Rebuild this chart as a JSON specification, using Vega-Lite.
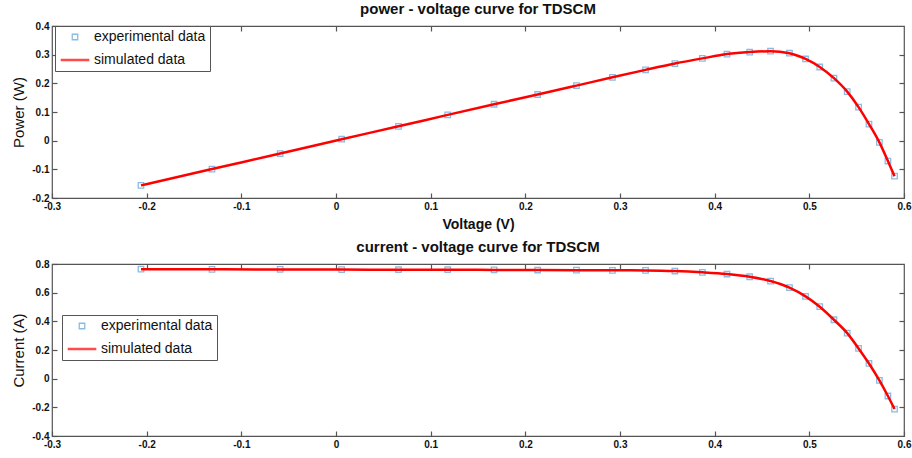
{
  "$schema": "https://vega.github.io/schema/vega-lite/v6.json",
  "background": "white",
  "padding": {"left": 11, "top": 1, "right": 0, "bottom": 2},
  "spacing": 7,
  "resolve": {
    "scale": {"color": "independent", "shape": "independent", "size": "independent", "strokeWidth": "independent"},
    "legend": {"color": "independent", "shape": "independent", "size": "independent", "strokeWidth": "independent"}
  },
  "config": {
    "font": "Liberation Sans",
    "view": {"stroke": "#555", "strokeWidth": 1.2},
    "axis": {
      "grid": false, "domain": false, "tickColor": "#555", "tickSize": -5, "tickWidth": 1.2,
      "labelFont": "Liberation Sans", "labelFontWeight": "bold", "labelFontSize": 10, "labelColor": "#111",
      "labelPadding": 8, "titleFont": "Liberation Sans", "titleColor": "#111",
      "labelExpr": "datum.value < 0 ? '-' + format(-datum.value, '~g') : format(datum.value, '~g')"
    },
    "title": {"font": "Liberation Sans", "fontSize": 15, "fontWeight": "bold", "color": "#111", "offset": 4},
    "legend": {
      "title": null, "fillColor": "white", "strokeColor": "#555", "padding": 4,
      "labelFontSize": 14, "labelColor": "#111", "labelFont": "Liberation Sans",
      "rowPadding": -8, "labelOffset": 3
    }
  },
  "datasets": {
    "d": [
      {"v": -0.206, "p": -0.156, "i": 0.764},
      {"v": -0.131, "p": -0.099, "i": 0.763},
      {"v": -0.059, "p": -0.045, "i": 0.762},
      {"v": 0.006, "p": 0.005, "i": 0.761},
      {"v": 0.066, "p": 0.050, "i": 0.760},
      {"v": 0.118, "p": 0.090, "i": 0.760},
      {"v": 0.167, "p": 0.127, "i": 0.759},
      {"v": 0.213, "p": 0.161, "i": 0.758},
      {"v": 0.254, "p": 0.192, "i": 0.757},
      {"v": 0.292, "p": 0.221, "i": 0.756},
      {"v": 0.327, "p": 0.247, "i": 0.755},
      {"v": 0.358, "p": 0.269, "i": 0.751},
      {"v": 0.387, "p": 0.287, "i": 0.742},
      {"v": 0.413, "p": 0.302, "i": 0.730},
      {"v": 0.437, "p": 0.309, "i": 0.711},
      {"v": 0.459, "p": 0.312, "i": 0.681},
      {"v": 0.479, "p": 0.305, "i": 0.635},
      {"v": 0.496, "p": 0.285, "i": 0.574},
      {"v": 0.511, "p": 0.257, "i": 0.502},
      {"v": 0.526, "p": 0.218, "i": 0.411},
      {"v": 0.540, "p": 0.171, "i": 0.318},
      {"v": 0.552, "p": 0.117, "i": 0.211},
      {"v": 0.563, "p": 0.058, "i": 0.106},
      {"v": 0.574, "p": -0.006, "i": -0.012},
      {"v": 0.583, "p": -0.071, "i": -0.121},
      {"v": 0.590, "p": -0.124, "i": -0.212}
    ]
  },
  "vconcat": [
    {
      "width": 852, "height": 172,
      "title": {"text": "power - voltage curve for TDSCM"},
      "data": {"name": "d"},
      "resolve": {"axis": {"x": "independent", "y": "independent"}},
      "layer": [
        {
          "mark": {"type": "point", "filled": false},
          "encoding": {
            "x": {"field": "v", "type": "quantitative", "scale": {"domain": [-0.3, 0.6], "nice": false, "zero": false},
              "axis": {"orient": "top", "labels": false, "title": null, "values": [-0.2, -0.1, 0, 0.1, 0.2, 0.3, 0.4, 0.5]}},
            "y": {"field": "p", "type": "quantitative", "scale": {"domain": [-0.2, 0.4], "nice": false, "zero": false},
              "axis": {"orient": "right", "labels": false, "title": null, "values": [-0.1, 0, 0.1, 0.2, 0.3]}},
            "color": {"datum": "experimental data",
              "scale": {"domain": ["experimental data", "simulated data"], "range": ["#5aa0d8", "#ff0000"]},
              "legend": {"orient": "none", "legendX": 3, "legendY": 0}},
            "shape": {"datum": "experimental data",
              "scale": {"domain": ["experimental data", "simulated data"], "range": ["square", "stroke"]},
              "legend": {"orient": "none", "legendX": 3, "legendY": 0}},
            "size": {"datum": "experimental data",
              "scale": {"type": "ordinal", "domain": ["experimental data", "simulated data"], "range": [30, 820]},
              "legend": {"orient": "none", "legendX": 3, "legendY": 0}},
            "strokeWidth": {"datum": "experimental data",
              "scale": {"type": "ordinal", "domain": ["experimental data", "simulated data"], "range": [1.3, 2.5]},
              "legend": {"orient": "none", "legendX": 3, "legendY": 0}}
          }
        },
        {
          "mark": {"type": "line", "interpolate": "monotone", "color": "#ff0000", "strokeWidth": 2.5},
          "encoding": {
            "x": {"field": "v", "type": "quantitative", "scale": {"domain": [-0.3, 0.6], "nice": false, "zero": false},
              "axis": {"orient": "bottom", "title": "Voltage (V)", "titleFontSize": 14, "titleFontWeight": "bold", "titlePadding": 6,
                "values": [-0.3, -0.2, -0.1, 0, 0.1, 0.2, 0.3, 0.4, 0.5, 0.6], "labelFlush": false}},
            "y": {"field": "p", "type": "quantitative", "scale": {"domain": [-0.2, 0.4], "nice": false, "zero": false},
              "axis": {"orient": "left", "title": "Power  (W)", "titleFontSize": 15, "titleFontWeight": "normal", "titlePadding": 5,
                "values": [-0.2, -0.1, 0, 0.1, 0.2, 0.3, 0.4], "labelFlush": false}}
          }
        }
      ]
    },
    {
      "width": 852, "height": 172,
      "title": {"text": "current - voltage curve for TDSCM"},
      "data": {"name": "d"},
      "resolve": {"axis": {"x": "independent", "y": "independent"}},
      "layer": [
        {
          "mark": {"type": "point", "filled": false},
          "encoding": {
            "x": {"field": "v", "type": "quantitative", "scale": {"domain": [-0.3, 0.6], "nice": false, "zero": false},
              "axis": {"orient": "top", "labels": false, "title": null, "values": [-0.2, -0.1, 0, 0.1, 0.2, 0.3, 0.4, 0.5]}},
            "y": {"field": "i", "type": "quantitative", "scale": {"domain": [-0.4, 0.8], "nice": false, "zero": false},
              "axis": {"orient": "right", "labels": false, "title": null, "values": [-0.2, 0, 0.2, 0.4, 0.6]}},
            "color": {"datum": "experimental data",
              "scale": {"domain": ["experimental data", "simulated data"], "range": ["#5aa0d8", "#ff0000"]},
              "legend": {"orient": "none", "legendX": 10, "legendY": 51}},
            "shape": {"datum": "experimental data",
              "scale": {"domain": ["experimental data", "simulated data"], "range": ["square", "stroke"]},
              "legend": {"orient": "none", "legendX": 10, "legendY": 51}},
            "size": {"datum": "experimental data",
              "scale": {"type": "ordinal", "domain": ["experimental data", "simulated data"], "range": [30, 820]},
              "legend": {"orient": "none", "legendX": 10, "legendY": 51}},
            "strokeWidth": {"datum": "experimental data",
              "scale": {"type": "ordinal", "domain": ["experimental data", "simulated data"], "range": [1.3, 2.5]},
              "legend": {"orient": "none", "legendX": 10, "legendY": 51}}
          }
        },
        {
          "mark": {"type": "line", "interpolate": "monotone", "color": "#ff0000", "strokeWidth": 2.5},
          "encoding": {
            "x": {"field": "v", "type": "quantitative", "scale": {"domain": [-0.3, 0.6], "nice": false, "zero": false},
              "axis": {"orient": "bottom", "title": null,
                "values": [-0.3, -0.2, -0.1, 0, 0.1, 0.2, 0.3, 0.4, 0.5, 0.6], "labelFlush": false}},
            "y": {"field": "i", "type": "quantitative", "scale": {"domain": [-0.4, 0.8], "nice": false, "zero": false},
              "axis": {"orient": "left", "title": "Current  (A)", "titleFontSize": 15, "titleFontWeight": "normal", "titlePadding": 5,
                "values": [-0.4, -0.2, 0, 0.2, 0.4, 0.6, 0.8], "labelFlush": false}}
          }
        }
      ]
    }
  ]
}
